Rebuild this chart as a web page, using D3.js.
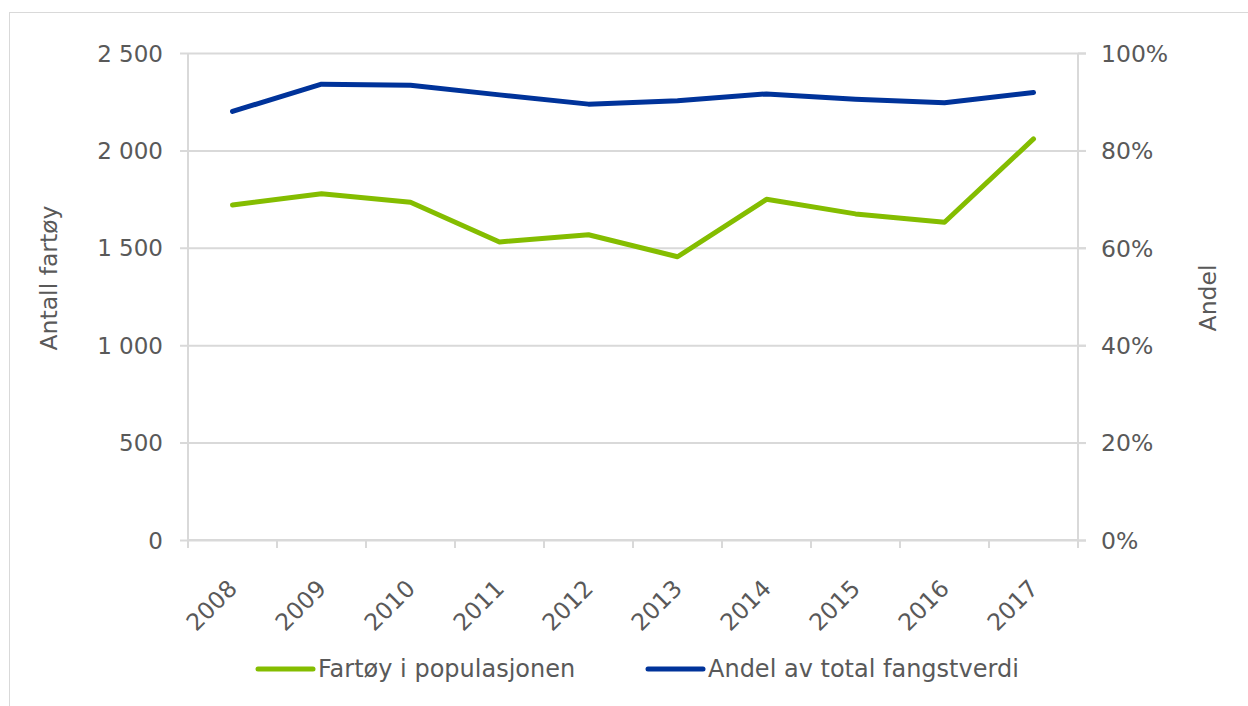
<!DOCTYPE html>
<html>
<head>
<meta charset="utf-8">
<script src="https://cdn.jsdelivr.net/npm/d3@7"></script>
<style>
  body { margin: 0; background: #fff; }
  svg text { font-family: Verdana, "DejaVu Sans", sans-serif; fill: #595959; }
</style>
</head>
<body>
<div id="chart"></div>
<script>
const years = ["2008", "2009", "2010", "2011", "2012", "2013", "2014", "2015", "2016", "2017"];
const fartoy = [1720, 1778, 1734, 1530, 1567, 1454, 1749, 1674, 1631, 2059];
const andel = [0.880, 0.936, 0.934, 0.914, 0.895, 0.902, 0.916, 0.905, 0.898, 0.919];
const leftTicks = [0, 500, 1000, 1500, 2000, 2500];
const rightTicks = [0, 0.2, 0.4, 0.6, 0.8, 1.0];
const seriesNames = ["Fartøy i populasjonen", "Andel av total fangstverdi"];
const colors = ["#84bd00", "#00339a"];

const W = 1248, H = 706;
const margin = { top: 53, right: 170, bottom: 166, left: 188 };
const width = W - margin.left - margin.right;
const height = H - margin.top - margin.bottom;

const root = d3.select("#chart").append("svg")
  .attr("width", W)
  .attr("height", H);

// outer chart border
root.append("rect")
  .attr("x", 9.5).attr("y", 12.5)
  .attr("width", W).attr("height", H)
  .attr("fill", "none")
  .attr("stroke", "#d9d9d9");

const svg = root.append("g")
  .attr("transform", `translate(${margin.left},${margin.top})`);

// scales
const x = d3.scaleBand().domain(years).range([0, width]);
const yL = d3.scaleLinear().domain([0, 2500]).range([height, 0]);
const yR = d3.scaleLinear().domain([0, 1]).range([height, 0]);

const fmtLeft = d => d3.format(",")(d).replace(/,/g, " ");

// grid + left axis
const gL = svg.append("g")
  .call(d3.axisLeft(yL).tickValues(leftTicks).tickSize(8).tickFormat(fmtLeft));
gL.select(".domain").attr("stroke", "#d9d9d9").attr("stroke-width", 2).attr("d", `M0,0V${height}`);
gL.selectAll(".tick line").attr("stroke", "#d9d9d9").attr("stroke-width", 2)
  .attr("x1", -8).attr("x2", width + 8);
gL.selectAll(".tick text").attr("x", -25).attr("dy", "0.35em")
  .style("font-size", "23px").attr("fill", "#595959");

// right axis
const gR = svg.append("g")
  .attr("transform", `translate(${width},0)`)
  .call(d3.axisRight(yR).tickValues(rightTicks).tickSize(8).tickFormat(d3.format(".0%")));
gR.select(".domain").attr("stroke", "#d9d9d9").attr("stroke-width", 2).attr("d", `M0,0V${height}`);
gR.selectAll(".tick line").attr("stroke", "#d9d9d9").attr("stroke-width", 2);
gR.selectAll(".tick text").attr("x", 23).attr("dy", "0.35em")
  .style("font-size", "23.5px").attr("fill", "#595959");

// bottom axis
const gB = svg.append("g")
  .attr("transform", `translate(0,${height})`)
  .call(d3.axisBottom(x).tickSize(0));
gB.select(".domain").remove();
gB.selectAll(".tick text")
  .attr("text-anchor", "end")
  .attr("y", 0).attr("dy", 0)
  .attr("transform", "translate(6,50) rotate(-45)")
  .style("font-size", "23.5px").attr("fill", "#595959");

// band boundary ticks
svg.append("g").selectAll("line")
  .data(years.concat(["end"]))
  .join("line")
  .attr("x1", (d, i) => i * x.step())
  .attr("x2", (d, i) => i * x.step())
  .attr("y1", height).attr("y2", height + 8)
  .attr("stroke", "#d9d9d9").attr("stroke-width", 2);
svg.append("line")
  .attr("x1", 0).attr("x2", width)
  .attr("y1", height).attr("y2", height)
  .attr("stroke", "#d9d9d9").attr("stroke-width", 2);

// lines
const cx = d => x(d) + x.bandwidth() / 2;
const lineL = d3.line().x((d, i) => cx(years[i])).y(d => yL(d));
const lineR = d3.line().x((d, i) => cx(years[i])).y(d => yR(d));

svg.append("path").datum(fartoy)
  .attr("d", lineL).attr("fill", "none")
  .attr("stroke", colors[0]).attr("stroke-width", 5)
  .attr("stroke-linecap", "round").attr("stroke-linejoin", "round");
svg.append("path").datum(andel)
  .attr("d", lineR).attr("fill", "none")
  .attr("stroke", colors[1]).attr("stroke-width", 5)
  .attr("stroke-linecap", "round").attr("stroke-linejoin", "round");

// axis titles
root.append("text")
  .attr("transform", "translate(57,278) rotate(-90)")
  .attr("text-anchor", "middle")
  .style("font-size", "23.5px")
  .text("Antall fartøy");
root.append("text")
  .attr("transform", "translate(1216,298) rotate(-90)")
  .attr("text-anchor", "middle")
  .style("font-size", "23.5px")
  .text("Andel");

// legend
const legendX = [258, 648];
const legend = root.append("g").selectAll("g")
  .data(seriesNames)
  .join("g")
  .attr("transform", (d, i) => `translate(${legendX[i]},669)`);
legend.append("line")
  .attr("x1", 0).attr("x2", 55)
  .attr("stroke", (d, i) => colors[i]).attr("stroke-width", 5)
  .attr("stroke-linecap", "round");
legend.append("text")
  .attr("x", 60).attr("dy", "0.35em")
  .style("font-size", "24px")
  .text(d => d);
</script>
</body>
</html>
